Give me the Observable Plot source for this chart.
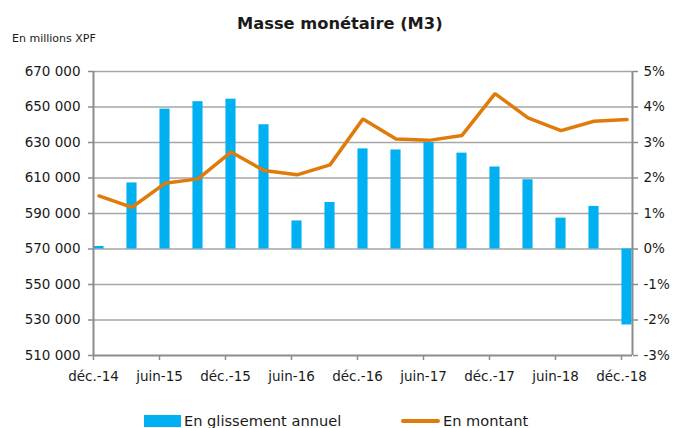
<!DOCTYPE html>
<html>
<head>
<meta charset="utf-8">
<script src="https://cdn.jsdelivr.net/npm/d3@7"></script>
<script src="https://cdn.jsdelivr.net/npm/@observablehq/plot@0.6"></script>
<style>
  html, body { margin: 0; padding: 0; background: #fff; }
  #wrap { position: relative; width: 676px; height: 428px; overflow: hidden; font-family: "DejaVu Sans", sans-serif; color: #1a1a1a; }
  #title { position: absolute; left: 237px; top: 14px; font-size: 16.3px; font-weight: bold; white-space: nowrap; }
  #unit { position: absolute; left: 12px; top: 32px; font-size: 11px; white-space: nowrap; }
  .leg { position: absolute; top: 412px; font-size: 14.6px; white-space: nowrap; display: flex; align-items: center; }
  .sw { display: inline-block; width: 37px; height: 12px; background: #00b0f0; margin-right: 3px; }
  .ln { display: inline-block; width: 39px; height: 4px; background: #e07b0b; border-radius: 2px; margin-right: 3px; }
  #chart { position: absolute; left: 0; top: 0; }
</style>
</head>
<body>
<div id="wrap">
  <div id="chart"></div>
  <div id="title">Masse monétaire (M3)</div>
  <div id="unit">En millions XPF</div>
  <div class="leg" style="left:144px"><span class="sw"></span>En glissement annuel</div>
  <div class="leg" style="left:401px"><span class="ln"></span>En montant</div>
</div>
<script>
// Quarterly categories (déc.-14 .. déc.-18)
const quarters = ["déc.-14","mars-15","juin-15","sept.-15","déc.-15","mars-16","juin-16","sept.-16",
  "déc.-16","mars-17","juin-17","sept.-17","déc.-17","mars-18","juin-18","sept.-18","déc.-18"];
// Year-on-year change, % (bars, right axis)
const glissement = [0.07, 1.86, 3.94, 4.15, 4.22, 3.50, 0.79, 1.31,
  2.82, 2.79, 3.00, 2.70, 2.31, 1.95, 0.87, 1.20, -2.14];
// Amount, millions XPF (line, left axis)
const montant = [599900, 593500, 607000, 609500, 624600, 614200, 611800, 617400,
  643300, 632000, 631200, 634000, 657500, 643900, 636700, 642000, 642900];
// Axis ticks
const leftTicks = [510000, 530000, 550000, 570000, 590000, 610000, 630000, 650000, 670000];
const rightTickLabels = ["-3%","-2%","-1%","0%","1%","2%","3%","4%","5%"];
const xTickLabels = ["déc.-14","juin-15","déc.-15","juin-16","déc.-16","juin-17","déc.-17","juin-18","déc.-18"];

// month index of each quarter (centered in its month slot)
const data = quarters.map((q, i) => ({q, m: 3 * i + 0.5, pct: glissement[i], amt: montant[i]}));
const xTickPos = xTickLabels.map((_, i) => 6 * i);
const zeroAmt = 570000, perPct = 20000; // 0% aligned with 570 000, 1% = 20 000
const axisColor = "#8c8c8c";
const fmtLeft = v => d3.format(",")(v).replace(/,/g, " ");

const plot = Plot.plot({
  width: 676,
  height: 428,
  marginLeft: 93,
  marginRight: 44,
  marginTop: 71,
  marginBottom: 73,
  style: {fontFamily: "DejaVu Sans, sans-serif", fontSize: "13.5px", color: "#1a1a1a", background: "transparent"},
  x: {type: "linear", domain: [0, 49], axis: null},
  y: {domain: [510000, 670000], axis: null},
  marks: [
    Plot.ruleY(leftTicks.slice(1), {stroke: "#a6a6a6", strokeWidth: 1.4}),
    Plot.rectY(data, {
      x1: d => d.m - 0.46, x2: d => d.m + 0.46,
      y1: zeroAmt, y2: d => zeroAmt + d.pct * perPct,
      fill: "#00b0f0"
    }),
    Plot.line(data, {x: "m", y: "amt", stroke: "#e07b0b", strokeWidth: 3.5, strokeLinejoin: "miter"}),
    Plot.ruleX([0, 49], {stroke: axisColor, strokeWidth: 2}),
    Plot.ruleY([510000], {stroke: axisColor, strokeWidth: 2}),
    Plot.axisY({anchor: "left", ticks: leftTicks, tickFormat: fmtLeft, tickSize: 5, tickPadding: 8, stroke: axisColor, strokeWidth: 1.5, fill: "#1a1a1a", label: null}),
    Plot.axisY({anchor: "right", ticks: leftTicks, tickFormat: (v, i) => rightTickLabels[leftTicks.indexOf(v)], tickSize: 5, tickPadding: 6, stroke: axisColor, strokeWidth: 1.5, fill: "#1a1a1a", label: null}),
    Plot.axisX({anchor: "bottom", ticks: xTickPos, tickFormat: v => xTickLabels[v / 6], tickSize: 5, tickPadding: 11, stroke: axisColor, strokeWidth: 1.5, fill: "#1a1a1a", label: null})
  ]
});
document.getElementById("chart").appendChild(plot);
</script>
</body>
</html>
